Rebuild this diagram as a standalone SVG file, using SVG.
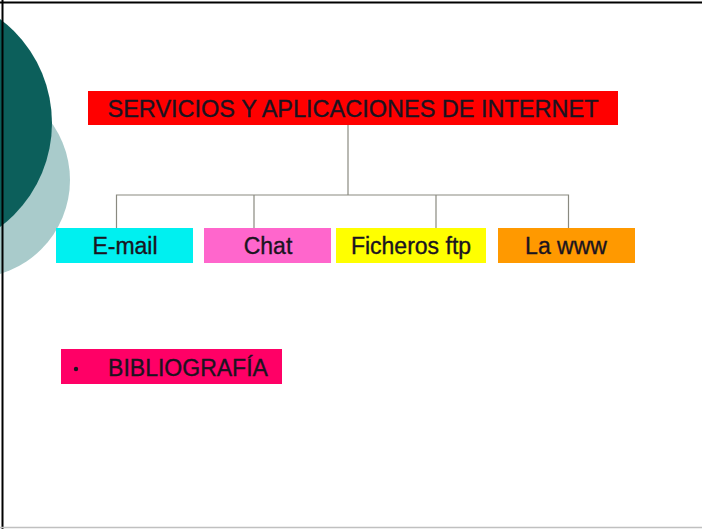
<svg xmlns="http://www.w3.org/2000/svg" width="702" height="529" viewBox="0 0 702 529">
<style>
.t{font-family:"Liberation Sans",Arial,sans-serif;font-size:23px;fill:#1a1420;stroke:#1a1420;stroke-width:0.35;text-anchor:middle}
.c{stroke:#8a8a80;stroke-width:1.2;fill:none}
</style>
<rect x="0" y="0" width="702" height="529" fill="#ffffff"/>
<g id="decor">
<circle cx="-28" cy="180" r="98" fill="#a9cbcb"/>
<circle cx="-78" cy="123" r="130" fill="#0c5f5b"/>
</g>
<g id="frame">
<line x1="0" y1="2.5" x2="702" y2="2.5" stroke="#000" stroke-width="2"/>
<line x1="2.5" y1="0" x2="2.5" y2="529" stroke="#000" stroke-width="2"/>
<line x1="0" y1="527.5" x2="702" y2="527.5" stroke="#c0c0c0" stroke-width="1.5"/>
</g>
<g id="connectors">
<path class="c" d="M348 125V195"/>
<path class="c" d="M116.5 229V195H568.5V229" stroke="#aaa98a"/>
<path class="c" d="M254 195V229M436 195V229"/>
</g>
<g id="title">
<rect x="88" y="91" width="530" height="34" fill="#ff0000"/>
<text class="t" x="353" y="117" textLength="491" lengthAdjust="spacingAndGlyphs">SERVICIOS Y APLICACIONES DE INTERNET</text>
</g>
<g id="email">
<rect x="56" y="228" width="137" height="35" fill="#00f0f0"/>
<text class="t" x="125" y="254">E-mail</text>
</g>
<g id="chat">
<rect x="204" y="228" width="127" height="35" fill="#ff66cc"/>
<text class="t" x="268" y="254">Chat</text>
</g>
<g id="ficheros">
<rect x="336" y="228" width="150" height="35" fill="#ffff00"/>
<text class="t" x="411" y="254">Ficheros ftp</text>
</g>
<g id="www">
<rect x="498" y="228" width="137" height="35" fill="#ff9900"/>
<text class="t" x="566" y="254">La www</text>
</g>
<g id="bibliografia">
<rect x="61" y="349" width="221" height="35" fill="#ff0066"/>
<circle cx="76" cy="369" r="2.2" fill="#1a1420"/>
<text class="t" x="188" y="376">BIBLIOGRAFÍA</text>
</g>
</svg>
